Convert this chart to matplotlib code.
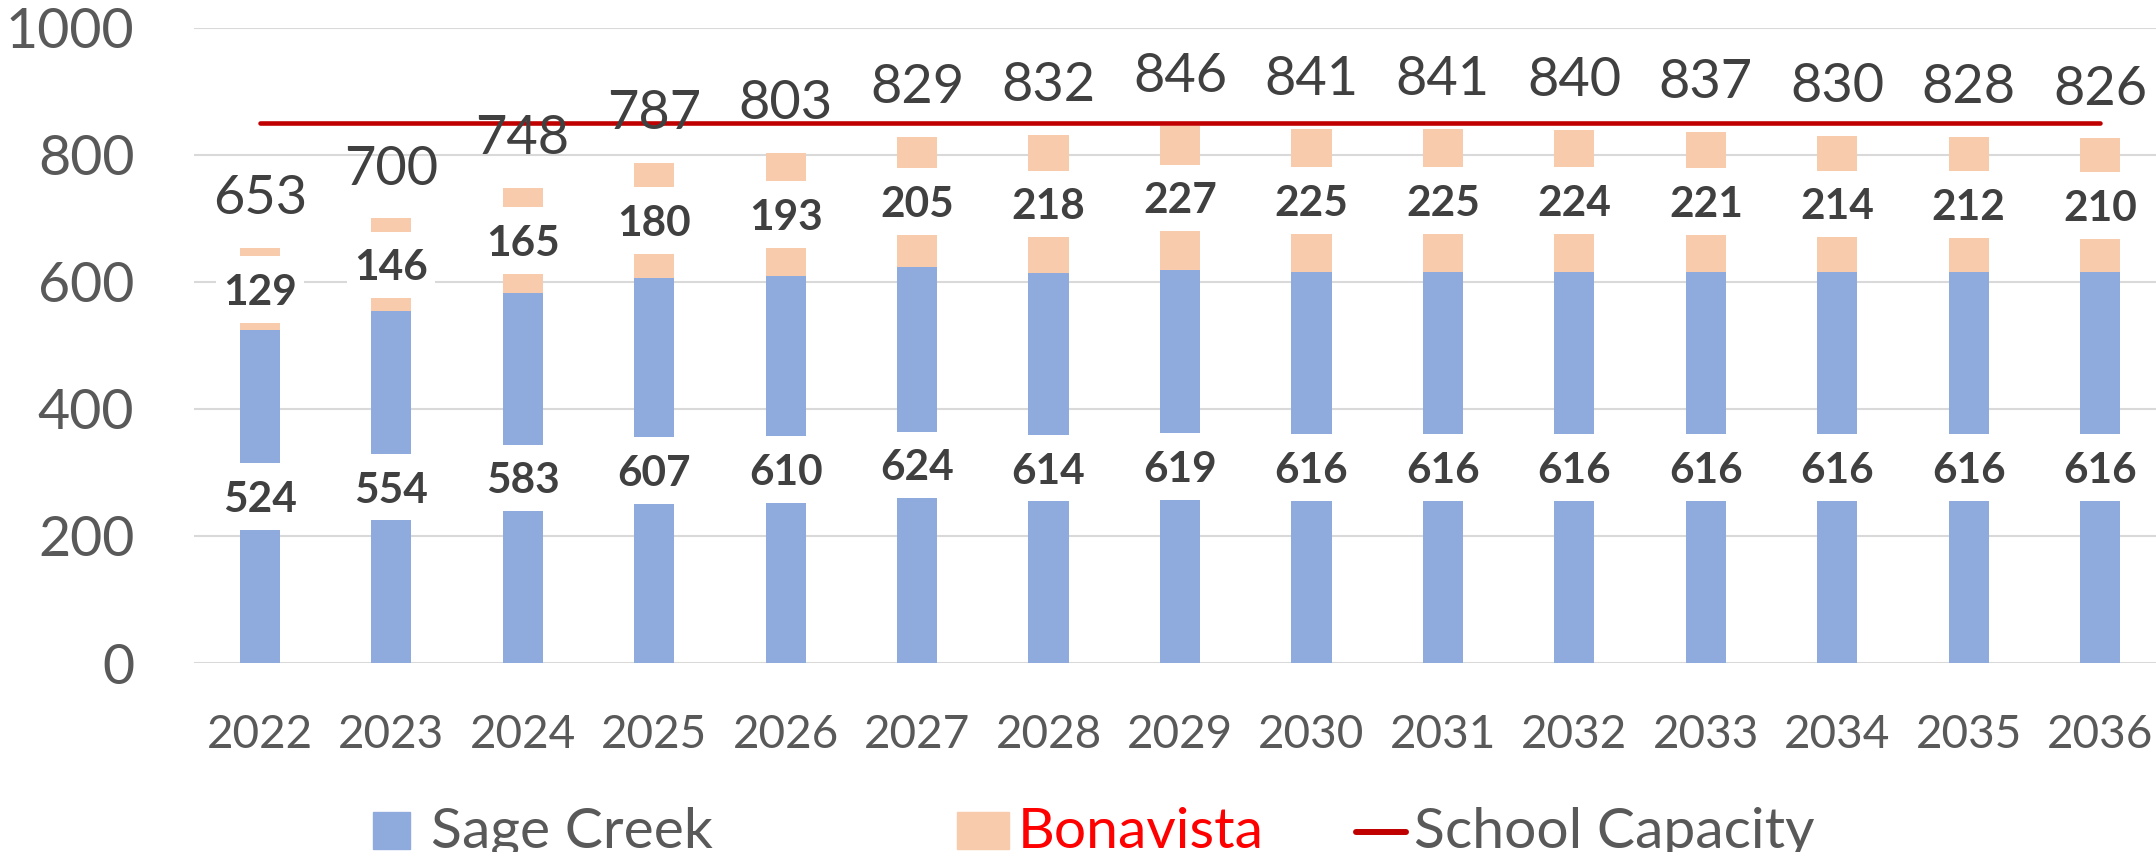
import matplotlib
matplotlib.use("Agg")
import matplotlib.pyplot as plt
from matplotlib.patches import Rectangle
from matplotlib.lines import Line2D

plt.rcParams["font.family"] = ["Lato", "DejaVu Sans"]

# data
years = ["2022", "2023", "2024", "2025", "2026", "2027", "2028", "2029",
         "2030", "2031", "2032", "2033", "2034", "2035", "2036"]
sage_creek = [524, 554, 583, 607, 610, 624, 614, 619, 616, 616, 616, 616, 616, 616, 616]
bonavista = [129, 146, 165, 180, 193, 205, 218, 227, 225, 225, 224, 221, 214, 212, 210]
capacity = 850

totals = [s + b for s, b in zip(sage_creek, bonavista)]
x = list(range(len(years)))

BLUE = "#8FAADC"
PEACH = "#F8CBAD"
RED = "#C00000"
LABEL = "#404040"
AXIS = "#595959"

W, H = 2156, 852
fig = plt.figure(figsize=(W / 100, H / 100), dpi=100)
ax = fig.add_axes([194 / W, 1 - 663 / H, 1972 / W, 635 / H])

ax.bar(x, sage_creek, width=0.305, color=BLUE, zorder=2)
ax.bar(x, bonavista, bottom=sage_creek, width=0.305, color=PEACH, zorder=2)

# white boxes behind the segment labels (as Excel draws them)
box_w, box_h = 0.67, 105
sage_mid = [s / 2 for s in sage_creek]
bona_mid = [s + b / 2 for s, b in zip(sage_creek, bonavista)]
for mids in (sage_mid, bona_mid):
    ax.bar(x, [box_h] * len(x), bottom=[m - box_h / 2 for m in mids],
           width=box_w, color="white", zorder=3)

for i in x:
    ax.text(i, sage_mid[i], str(sage_creek[i]), ha="center", va="center_baseline",
            fontsize=30.5, fontweight="bold", color=LABEL, zorder=5)
    ax.text(i, bona_mid[i], str(bonavista[i]), ha="center", va="center_baseline",
            fontsize=30.5, fontweight="bold", color=LABEL, zorder=5)
    ax.text(i, totals[i] + 85, str(totals[i]), ha="center", va="center_baseline",
            fontsize=39, color=LABEL, zorder=5)

ax.plot(x, [capacity] * len(x), color=RED, lw=3.3, solid_capstyle="round", zorder=4)

ax.set_xlim(-0.5, 14.5)
ax.set_ylim(0, 1000)
ax.set_yticks(range(0, 1001, 200))
ax.set_xticks(x)
ax.set_xticklabels(years)
ax.tick_params(axis="y", length=0, pad=43, labelsize=40, labelcolor=AXIS)
ax.tick_params(axis="x", length=0, pad=37, labelsize=33, labelcolor=AXIS)
ax.yaxis.grid(True, color="#D9D9D9", lw=1.5)
ax.set_axisbelow(True)
for s in ax.spines.values():
    s.set_visible(False)

# legend drawn by hand so the uneven spacing matches
fig.add_artist(Rectangle((373 / W, 1 - 849 / H), 37 / W, 37 / H,
                         transform=fig.transFigure, color=BLUE))
fig.text(431 / W, 1 - 848 / H, "Sage Creek", fontsize=41, color=AXIS, va="baseline")
fig.add_artist(Rectangle((957 / W, 1 - 849 / H), 52 / W, 37 / H,
                         transform=fig.transFigure, color=PEACH))
fig.text(1018 / W, 1 - 848 / H, "Bonavista", fontsize=41, color="#FF0000", va="baseline")
fig.add_artist(Line2D([1356 / W, 1406 / W], [1 - 832 / H] * 2, transform=fig.transFigure,
                      color=RED, lw=4.3, solid_capstyle="round"))
fig.text(1414 / W, 1 - 848 / H, "School Capacity", fontsize=41, color=AXIS, va="baseline")

fig.savefig("out.png", dpi=100)
